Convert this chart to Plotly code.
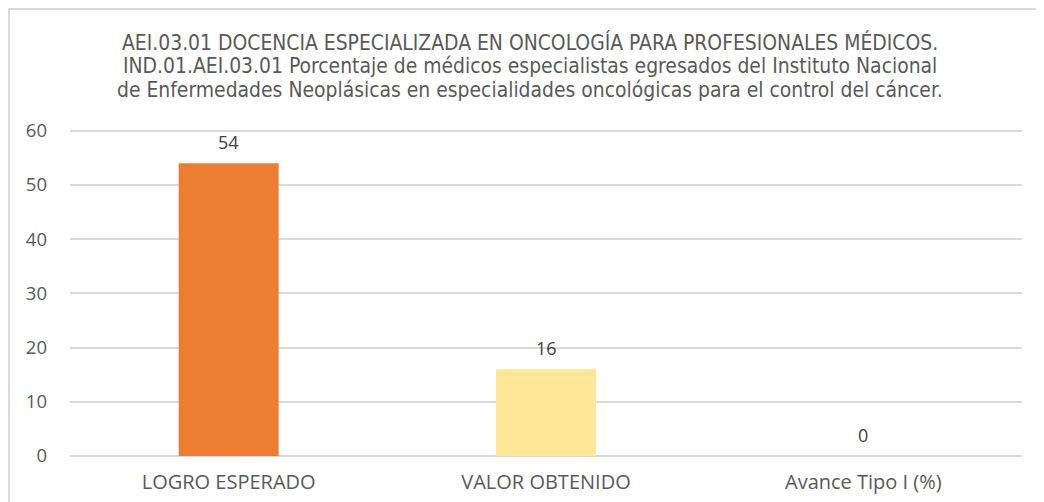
import plotly.graph_objects as go

categories = ["LOGRO ESPERADO", "VALOR OBTENIDO", "Avance Tipo I (%)"]
values = [54, 16, 0]
colors = ["#ED7D31", "#FFE699", "#A5A5A5"]
title_lines = [
    "AEI.03.01 DOCENCIA ESPECIALIZADA EN ONCOLOGÍA PARA PROFESIONALES MÉDICOS.",
    "IND.01.AEI.03.01 Porcentaje de médicos especialistas egresados del Instituto Nacional",
    "de Enfermedades Neoplásicas en especialidades oncológicas para el control del cáncer.",
]
y_ticks = [0, 10, 20, 30, 40, 50, 60]

# page has an 8px body margin; figure sized to fit the window
W, H = 1036, 494
ml, mr, mt, mb = 62, 22, 121, 46
pw, ph = W - ml - mr, H - mt - mb
title_y = [34, 58, 82]  # line centres, figure px
title_cx = 522          # title centre, figure px

annotations = [
    dict(text=t, xref="paper", yref="paper", x=(title_cx - ml) / pw, xanchor="center",
         y=(H - mb - yy) / ph, yanchor="middle", showarrow=False,
         font=dict(family="DejaVu Sans Condensed", size=20.9, color="#595959"))
    for t, yy in zip(title_lines, title_y)
]
# data labels above each bar
annotations += [
    dict(text=str(v), x=c, y=v, xref="x", yref="y", showarrow=False,
         yanchor="middle", yshift=21,
         font=dict(family="Open Sans", size=18, color="#404040"))
    for c, v in zip(categories, values)
]

fig = go.Figure(go.Bar(
    x=categories, y=values, marker_color=colors, marker_line_width=0,
    hovertemplate="%{x}: %{y}<extra></extra>",
))

fig.update_layout(
    width=W, height=H,
    margin=dict(l=ml, r=mr, t=mt, b=mb, autoexpand=False),
    paper_bgcolor="white", plot_bgcolor="white",
    bargap=0.685, showlegend=False,
    annotations=annotations,
    xaxis=dict(
        showline=False, ticks="", showgrid=False,
        tickfont=dict(family="Open Sans", size=20, color="#595959"),
        ticklabelstandoff=12,
    ),
    yaxis=dict(
        range=[0, 60.3], tickvals=y_ticks, showline=False, zeroline=True,
        zerolinecolor="#D9D9D9", zerolinewidth=1.5,
        gridcolor="#D9D9D9", gridwidth=1.5, ticks="",
        tickfont=dict(family="Open Sans", size=18.5, color="#595959"),
        ticklabelstandoff=22,
    ),
    shapes=[
        dict(type="line", xref="paper", yref="paper",
             x0=-ml / pw, x1=(W - ml) / pw, y0=(H - mb - 1) / ph, y1=(H - mb - 1) / ph,
             line=dict(color="#D9D9D9", width=2)),
        dict(type="line", xref="paper", yref="paper",
             x0=(1 - ml) / pw, x1=(1 - ml) / pw, y0=(H - mb - 1) / ph, y1=-mb / ph,
             line=dict(color="#D9D9D9", width=2)),
    ],
)

fig.write_html("out.html")
